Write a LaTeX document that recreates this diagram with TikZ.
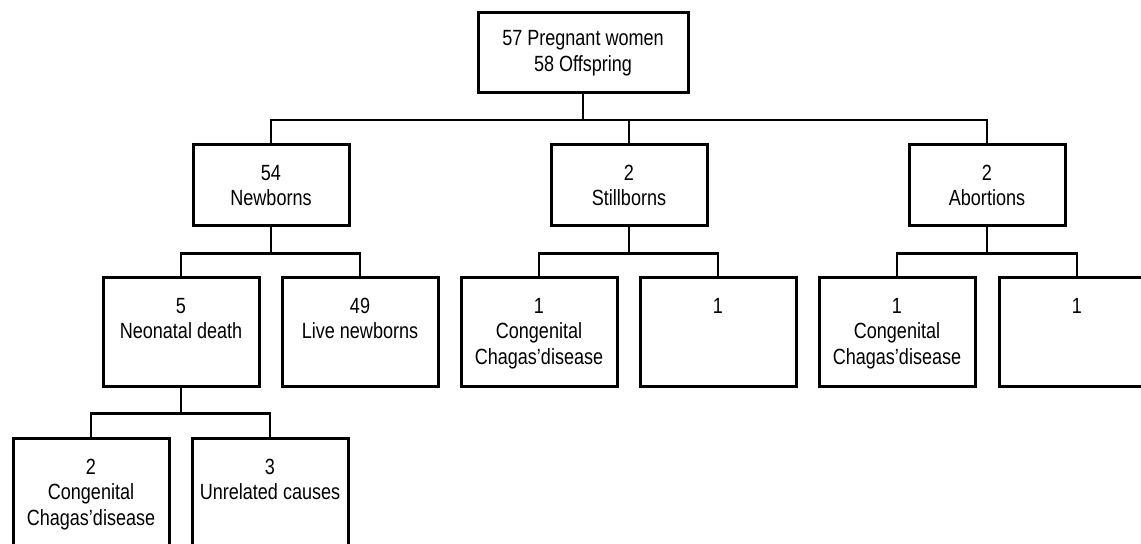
\documentclass[tikz,border=0pt]{standalone}
\usepackage{fontspec}
\setmainfont{Liberation Sans}[FakeStretch=0.82]
\usetikzlibrary{positioning}
\tikzset{
    base/.style={
        draw=black,
        line width=1.5pt,
        inner sep=0pt,
        align=center,
        font=\fontsize{11}{12.8}\selectfont,
    },
    % Whole cohort
    root/.style={
        base,
        minimum width=105pt,
        minimum height=40pt,
    },
    % Outcome of the pregnancy
    group/.style={
        base,
        minimum width=78pt,
        minimum height=40.5pt,
    },
    % Lower boxes, text at the top
    leaf/.style={
        base,
        minimum width=78pt,
        minimum height=54.5pt,
    },
    lbl/.style={
        anchor=north,
        inner sep=0pt,
        align=center,
        font=\fontsize{11}{12.8}\selectfont,
    },
    link/.style={
        line width=1.4pt,
    },
}

\begin{document}
\begin{tikzpicture}[x=0.5pt,y=-0.5pt]
\clip (0,0) rectangle (1141,544);
% Top
\node[root] (top) at (583,53) {57 Pregnant women\\58 Offspring};
\coordinate (top-bar) at (583,120);

% Pregnancy outcome
\node[group] (new) at (271,185.5) {54\\Newborns};
\node[group] (still) at (629,185.5) {2\\Stillborns};
\node[group] (abort) at (987,185.5) {2\\Abortions};

% Newborns
\node[leaf] (new-1) at (181,332.5) {};
\node[lbl] (new-1t) at ([yshift=-10.5pt]new-1.north) {5\\Neonatal death};
\node[leaf] (new-2) at (360,332.5) {};
\node[lbl] (new-2t) at ([yshift=-10.5pt]new-2.north) {49\\Live newborns};

% Stillborns
\node[leaf] (still-1) at (539,332.5) {};
\node[lbl] (still-1t) at ([yshift=-10.5pt]still-1.north) {1\\Congenital\\Chagas'disease};
\node[leaf] (still-2) at (718,332.5) {};
\node[lbl] (still-2t) at ([yshift=-10.5pt]still-2.north) {1};

% Abortions
\node[leaf] (abort-1) at (897,332.5) {};
\node[lbl] (abort-1t) at ([yshift=-10.5pt]abort-1.north) {1\\Congenital\\Chagas'disease};
\node[leaf] (abort-2) at (1077,332.5) {};
\node[lbl] (abort-2t) at ([yshift=-10.5pt]abort-2.north) {1};

% Neonatal death
\node[leaf] (death-1) at (91,493.5) {};
\node[lbl] (death-1t) at ([yshift=-10.5pt]death-1.north) {2\\Congenital\\Chagas'disease};
\node[leaf] (death-2) at (270,493.5) {};
\node[lbl] (death-2t) at ([yshift=-10.5pt]death-2.north) {3\\Unrelated causes};

% Connectors
\draw[link] (top.south) -- (top-bar);
\draw[link] (new.north) -- (new.north |- top-bar) -- (abort.north |- top-bar) -- (abort.north);
\draw[link] (still.north) -- (still.north |- top-bar);

\foreach \p in {new,still,abort}{
    \coordinate (\p-bar) at ([yshift=-13pt]\p.south);
    \draw[link] (\p.south) -- (\p-bar);
    \draw[link] (\p-1.north) -- (\p-1.north |- \p-bar) -- (\p-2.north |- \p-bar) -- (\p-2.north);
}

\coordinate (death-bar) at ([yshift=-12.5pt]new-1.south);
\draw[link] (new-1.south) -- (death-bar);
\draw[link] (death-1.north) -- (death-1.north |- death-bar) -- (death-2.north |- death-bar) -- (death-2.north);
\end{tikzpicture}
\end{document}
